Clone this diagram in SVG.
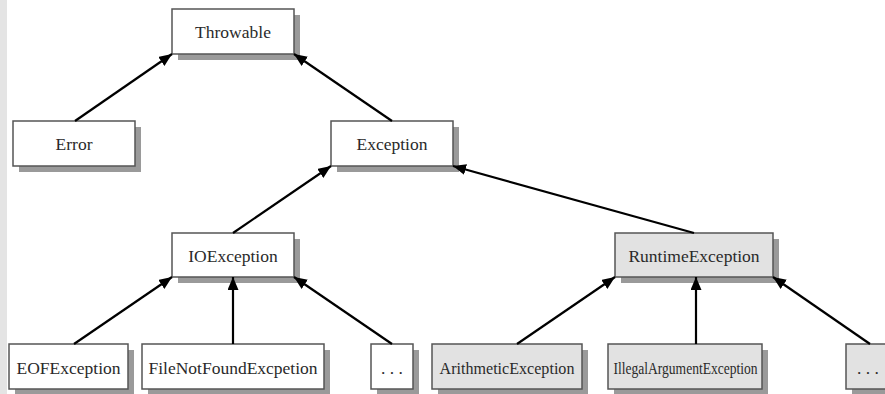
<svg xmlns="http://www.w3.org/2000/svg" width="885" height="394" viewBox="0 0 885 394">
<style>
.box{fill:#fff;stroke:#555;stroke-width:1.5}
.gbox{fill:#e2e2e2;stroke:#555;stroke-width:1.5}
.sh{fill:#9a9a9a}
.lbl{font-family:"Liberation Serif","Times New Roman",serif;font-size:17.5px;fill:#2a2a2a;text-anchor:middle}
.edge{stroke:#000;stroke-width:2.2;fill:none;marker-end:url(#ah)}
</style>
<defs>
<marker id="ah" markerUnits="userSpaceOnUse" markerWidth="14" markerHeight="12" refX="13" refY="5.5" orient="auto">
<path d="M0,0 L13,5.5 L0,11 z" fill="#000"/>
</marker>
</defs>
<rect x="0" y="0" width="885" height="394" fill="#fff"/>
<rect x="0" y="0" width="7" height="394" fill="#e4e4e4"/>

<g id="throwable">
<rect class="sh" x="178" y="15" width="122" height="45"/>
<rect class="box" x="172" y="9" width="122" height="45"/>
<text class="lbl" x="233" y="38">Throwable</text>
</g>
<g id="error">
<rect class="sh" x="19" y="127" width="122" height="45"/>
<rect class="box" x="13" y="121" width="122" height="45"/>
<text class="lbl" x="74" y="150">Error</text>
</g>
<g id="exception">
<rect class="sh" x="337" y="127" width="122" height="45"/>
<rect class="box" x="331" y="121" width="122" height="45"/>
<text class="lbl" x="392" y="150">Exception</text>
</g>
<g id="ioexception">
<rect class="sh" x="178" y="239" width="122" height="44"/>
<rect class="box" x="172" y="233" width="122" height="44"/>
<text class="lbl" x="233" y="262">IOException</text>
</g>
<g id="runtimeexception">
<rect class="sh" x="621" y="239" width="158" height="44"/>
<rect class="gbox" x="615" y="233" width="158" height="44"/>
<text class="lbl" x="694" y="262">RuntimeException</text>
</g>
<g id="eofexception">
<rect class="sh" x="15" y="350" width="119" height="45"/>
<rect class="box" x="9" y="344" width="119" height="45"/>
<text class="lbl" x="68.5" y="374">EOFException</text>
</g>
<g id="filenotfound">
<rect class="sh" x="148" y="350" width="182" height="45"/>
<rect class="box" x="142" y="344" width="182" height="45"/>
<text class="lbl" x="233" y="374">FileNotFoundExcpetion</text>
</g>
<g id="io-more">
<rect class="sh" x="377" y="350" width="42" height="45"/>
<rect class="box" x="371" y="344" width="42" height="45"/>
<text class="lbl" x="392" y="374">. . .</text>
</g>
<g id="arithmetic">
<rect class="sh" x="438" y="350" width="150" height="45"/>
<rect class="gbox" x="432" y="344" width="150" height="45"/>
<text class="lbl" transform="translate(507,374) scale(0.92,1)">ArithmeticException</text>
</g>
<g id="illegalargument">
<rect class="sh" x="614" y="350" width="154" height="45"/>
<rect class="gbox" x="608" y="344" width="154" height="45"/>
<text class="lbl" transform="translate(685.5,374) scale(0.775,1)">IllegalArgumentException</text>
</g>
<g id="rt-more">
<rect class="sh" x="852" y="350" width="50" height="45"/>
<rect class="gbox" x="846" y="344" width="50" height="45"/>
<text class="lbl" x="868" y="374">. . .</text>
</g>

<g id="connectors">
<line class="edge" x1="75" y1="121" x2="172" y2="54"/>
<line class="edge" x1="392" y1="121" x2="294" y2="54"/>
<line class="edge" x1="233" y1="233" x2="331" y2="166"/>
<line class="edge" x1="694" y1="233" x2="453" y2="166"/>
<line class="edge" x1="74" y1="344" x2="172" y2="277"/>
<line class="edge" x1="233" y1="344" x2="233" y2="277"/>
<line class="edge" x1="392" y1="344" x2="294" y2="277"/>
<line class="edge" x1="517" y1="344" x2="615" y2="277"/>
<line class="edge" x1="696" y1="344" x2="696" y2="277"/>
<line class="edge" x1="870" y1="344" x2="773" y2="277"/>
</g>
</svg>
